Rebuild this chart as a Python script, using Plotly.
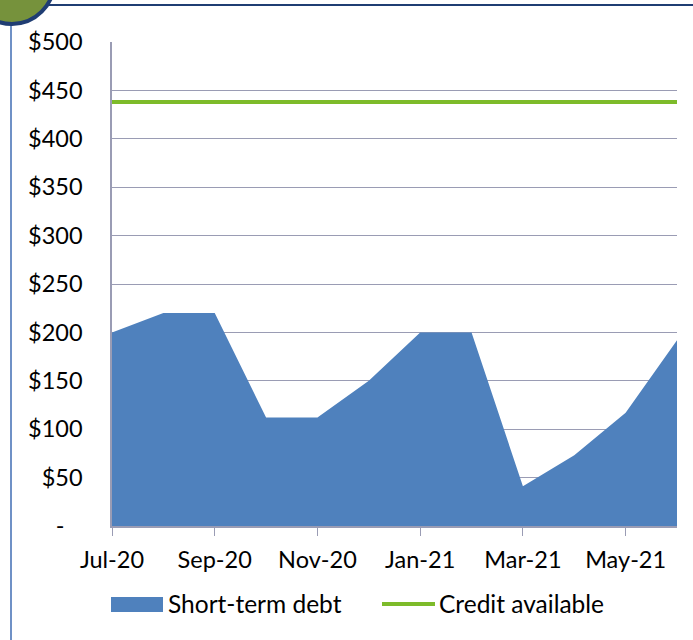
import plotly.graph_objects as go

months = ["Jul-20", "Aug-20", "Sep-20", "Oct-20", "Nov-20", "Dec-20",
          "Jan-21", "Feb-21", "Mar-21", "Apr-21", "May-21", "Jun-21"]
short_term_debt = [200, 220, 220, 112, 112, 150, 200, 200, 41, 73, 117, 192]
credit_available = [438] * 12
y_tickvals = [0, 50, 100, 150, 200, 250, 300, 350, 400, 450, 500]
y_ticktext = ["-\u00a0\u00a0\u00a0", "$50", "$100", "$150", "$200", "$250",
              "$300", "$350", "$400", "$450", "$500"]
x_tickvals = months[::2]

W, H = 693, 640
L, R, T, B = 112, 16, 42, 114
PW, PH = W - L - R, H - T - B


def px(x):
    return (x - L) / PW


def py(y):
    return (H - B - y) / PH


FONT = "Lato, Carlito, Calibri, sans-serif"

fig = go.Figure()
fig.add_trace(go.Scatter(
    x=months, y=short_term_debt, name="Short-term debt",
    mode="none", fill="tozeroy", fillcolor="#4F81BD",
    showlegend=False, hoverinfo="skip",
))
fig.add_trace(go.Scatter(
    x=months, y=credit_available, name="Credit available",
    mode="lines", line=dict(color="#7DBB2A", width=4),
    showlegend=False, hoverinfo="skip",
))

shapes = []
# frame lines
shapes.append(dict(type="line", xref="paper", yref="paper",
                   x0=px(11), x1=px(11), y0=py(20), y1=py(645),
                   line=dict(color="#3F6DB3", width=1.5)))
shapes.append(dict(type="line", xref="paper", yref="paper",
                   x0=px(40), x1=px(700), y0=py(5), y1=py(5),
                   line=dict(color="#1F3D73", width=2)))
shapes.append(dict(type="circle", xref="paper", yref="paper",
                   x0=px(-30), x1=px(54), y0=py(-60), y1=py(24),
                   fillcolor="#76923C", line=dict(color="#1F3D73", width=4)))
# legend symbols
shapes.append(dict(type="rect", xref="paper", yref="paper",
                   x0=px(111), x1=px(163), y0=py(612), y1=py(597),
                   fillcolor="#4F81BD", line=dict(width=0)))
shapes.append(dict(type="line", xref="paper", yref="paper",
                   x0=px(382), x1=px(435), y0=py(604), y1=py(604),
                   line=dict(color="#7DBB2A", width=4)))

LEG = 24.5
annotations = [
    dict(text="Short-term debt", xref="paper", yref="paper",
         x=px(166), y=py(603), xanchor="left", yanchor="middle",
         showarrow=False, font=dict(family=FONT, size=LEG, color="#000")),
    dict(text="Credit available", xref="paper", yref="paper",
         x=px(437), y=py(603), xanchor="left", yanchor="middle",
         showarrow=False, font=dict(family=FONT, size=LEG, color="#000")),
]

fig.update_layout(
    width=W, height=H,
    margin=dict(l=L, r=R, t=T, b=B),
    paper_bgcolor="white", plot_bgcolor="white",
    font=dict(family=FONT, size=23.5, color="#000"),
    shapes=shapes, annotations=annotations,
    showlegend=False,
)
fig.update_xaxes(
    type="category", range=[0, 11],
    tickvals=x_tickvals, ticktext=x_tickvals,
    ticks="outside", ticklen=8, tickcolor="#9A9CB4", tickwidth=1,
    showline=True, linecolor="#9A9CB4", linewidth=1.5,
    showgrid=False, zeroline=False, ticklabelstandoff=4,
)
fig.update_yaxes(
    range=[0, 500], tickvals=y_tickvals, ticktext=y_ticktext,
    showgrid=True, gridcolor="#9A9CB4", gridwidth=1,
    showline=True, linecolor="#9A9CB4", linewidth=1.5,
    zeroline=False, ticks="", ticklabelstandoff=23,
)

fig.write_html("out.html", config={"displayModeBar": False},
               post_script="document.body.style.margin='0';document.body.style.padding='0';")
